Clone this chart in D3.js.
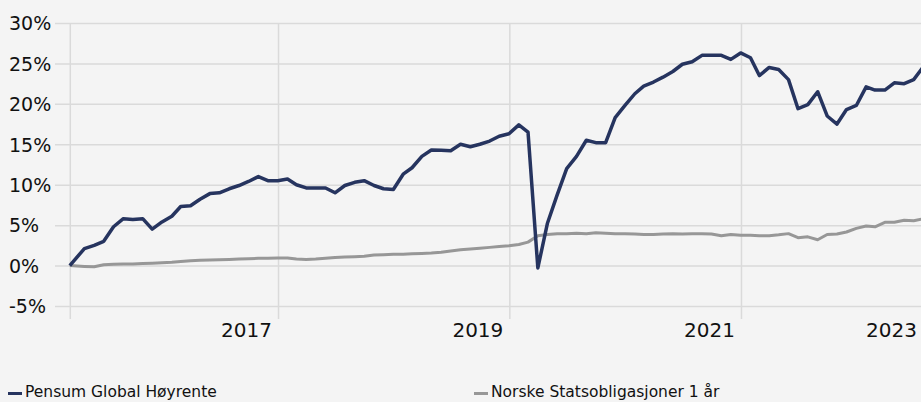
<!DOCTYPE html>
<html>
<head>
<meta charset="utf-8">
<script src="https://cdn.jsdelivr.net/npm/d3@7"></script>
<style>
  body { margin: 0; background: #f4f4f4; }
  svg { display: block; font-family: 'DejaVu Sans', sans-serif; }
</style>
</head>
<body>
<div id="chart"></div>
<script>
// monthly closing dates (first point = inception)
const dates = [
  '2016-03-15', '2016-04-30', '2016-05-31', '2016-06-30', '2016-07-31', '2016-08-31', '2016-09-30', '2016-10-31', '2016-11-30', '2016-12-31',
  '2017-01-31', '2017-02-28', '2017-03-31', '2017-04-30', '2017-05-31', '2017-06-30', '2017-07-31', '2017-08-31', '2017-09-30', '2017-10-31', '2017-11-30', '2017-12-31',
  '2018-01-31', '2018-02-28', '2018-03-31', '2018-04-30', '2018-05-31', '2018-06-30', '2018-07-31', '2018-08-31', '2018-09-30', '2018-10-31', '2018-11-30', '2018-12-31',
  '2019-01-31', '2019-02-28', '2019-03-31', '2019-04-30', '2019-05-31', '2019-06-30', '2019-07-31', '2019-08-31', '2019-09-30', '2019-10-31', '2019-11-30', '2019-12-31',
  '2020-01-31', '2020-02-29', '2020-03-31', '2020-04-30', '2020-05-31', '2020-06-30', '2020-07-31', '2020-08-31', '2020-09-30', '2020-10-31', '2020-11-30', '2020-12-31',
  '2021-01-31', '2021-02-28', '2021-03-31', '2021-04-30', '2021-05-31', '2021-06-30', '2021-07-31', '2021-08-31', '2021-09-30', '2021-10-31', '2021-11-30', '2021-12-31',
  '2022-01-31', '2022-02-28', '2022-03-31', '2022-04-30', '2022-05-31', '2022-06-30', '2022-07-31', '2022-08-31', '2022-09-30', '2022-10-31', '2022-11-30', '2022-12-31',
  '2023-01-31', '2023-02-28', '2023-03-31', '2023-04-30', '2023-05-31', '2023-06-30', '2023-07-31'
];

// cumulative return, %
const pensum = [
  0.0, 2.1, 2.5, 3.0, 4.8, 5.8, 5.7, 5.8, 4.5, 5.4,
  6.1, 7.3, 7.4, 8.2, 8.9, 9.0, 9.5, 9.9, 10.4, 11.0, 10.5, 10.5,
  10.7, 10.0, 9.6, 9.6, 9.6, 9.0, 9.9, 10.3, 10.5, 9.9, 9.5, 9.4,
  11.3, 12.1, 13.5, 14.3, 14.25, 14.2, 15.0, 14.7, 15.0, 15.4, 16.0, 16.3,
  17.4, 16.5, -0.3, 5.2, 8.75, 12.0, 13.5, 15.5, 15.2, 15.2, 18.3, 19.8,
  21.25, 22.2, 22.7, 23.3, 24.0, 24.9, 25.2, 26.0, 26.0, 26.0, 25.5, 26.3,
  25.7, 23.5, 24.5, 24.25, 23.0, 19.4, 19.9, 21.5, 18.5, 17.5, 19.3, 19.8,
  22.1, 21.7, 21.7, 22.6, 22.5, 23.0, 24.6
];

const statsobl = [
  0.0, -0.1, -0.15, 0.1, 0.15, 0.2, 0.2, 0.25, 0.3, 0.35,
  0.4, 0.5, 0.6, 0.65, 0.7, 0.72, 0.75, 0.8, 0.85, 0.9, 0.92, 0.95,
  0.95, 0.8, 0.75, 0.8, 0.9, 1.0, 1.05, 1.1, 1.15, 1.3, 1.35, 1.4,
  1.4, 1.45, 1.5, 1.55, 1.65, 1.8, 1.95, 2.05, 2.15, 2.25, 2.35, 2.45,
  2.6, 2.9, 3.7, 3.85, 3.95, 3.95, 4.0, 3.95, 4.05, 4.0, 3.95, 3.95,
  3.9, 3.85, 3.85, 3.9, 3.95, 3.9, 3.95, 3.95, 3.9, 3.7, 3.85, 3.75,
  3.75, 3.7, 3.7, 3.8, 3.95, 3.45, 3.55, 3.2, 3.85, 3.9, 4.15, 4.6,
  4.9, 4.8, 5.35, 5.35, 5.6, 5.55, 5.8
];

const seriesNames = ['Pensum Global Høyrente', 'Norske Statsobligasjoner 1 år'];
const seriesColors = ['#26345f', '#979797'];

const yTicks = [-5, 0, 5, 10, 15, 20, 25, 30];
const gridDates = ['2016-03-15', '2018-01-01', '2020-01-01', '2022-01-01'];
const xLabels = ['2017', '2019', '2021', '2023'];
const xLabelDates = ['2018-01-01', '2020-01-01', '2022-01-01', '2024-01-01'];

const parse = d3.timeParse('%Y-%m-%d');

const config = {
  containerWidth: 921,
  containerHeight: 402,
  margin: { top: 23, right: 0, bottom: 96, left: 55 }
};

const width = config.containerWidth - config.margin.left - config.margin.right;
const height = config.containerHeight - config.margin.top - config.margin.bottom;

const svg = d3.select('#chart').append('svg')
  .attr('width', config.containerWidth)
  .attr('height', config.containerHeight);

svg.append('rect')
  .attr('width', config.containerWidth)
  .attr('height', config.containerHeight)
  .attr('fill', '#f4f4f4');

const chart = svg.append('g')
  .attr('transform', `translate(${config.margin.left},${config.margin.top})`);

// scales
const xScale = d3.scaleTime()
  .domain([parse(dates[0]), parse(dates[dates.length - 1])])
  .range([14.8, 868.5]);

const yScale = d3.scaleLinear()
  .domain([-5, 30])
  .range([283, 0]);

// horizontal gridlines + y labels
const yAxis = d3.axisLeft(yScale)
  .tickValues(yTicks)
  .tickSize(-width)
  .tickFormat(d => d + '%');

chart.append('g')
  .attr('class', 'axis y-axis')
  .call(yAxis)
  .call(g => g.select('.domain').remove())
  .call(g => g.selectAll('line').attr('stroke', '#dadada').attr('stroke-width', 1.5))
  .call(g => g.selectAll('text')
    .attr('x', 9 - config.margin.left)
    .attr('dy', '0.36em')
    .attr('text-anchor', 'start')
    .attr('fill', '#111')
    .style('font-family', "'DejaVu Sans', sans-serif")
    .style('font-size', '19px'));

// vertical gridlines
const xAxis = d3.axisBottom(xScale)
  .tickValues(gridDates.map(parse))
  .tickSize(-296)
  .tickFormat('');

chart.append('g')
  .attr('class', 'axis x-axis')
  .attr('transform', 'translate(0,296)')
  .call(xAxis)
  .call(g => g.select('.domain').remove())
  .call(g => g.selectAll('line').attr('stroke', '#dadada').attr('stroke-width', 1.5));

// year labels, kept inside the plot on the right
chart.selectAll('.x-label')
  .data(xLabels)
  .join('text')
    .attr('class', 'x-label')
    .attr('x', (d, i) => Math.min(xScale(parse(xLabelDates[i])) - 6, width - 4))
    .attr('y', 314)
    .attr('text-anchor', 'end')
    .attr('fill', '#111')
    .style('font-size', '20px')
    .text(d => d);

// lines
const series = [pensum, statsobl];
const line = d3.line()
  .x((d, i) => xScale(parse(dates[i])))
  .y(d => yScale(d));

chart.selectAll('.series')
  .data([1, 0])
  .join('path')
    .attr('class', 'series')
    .attr('d', k => line(series[k]))
    .attr('fill', 'none')
    .attr('stroke', k => seriesColors[k])
    .attr('stroke-width', k => k === 0 ? 3.5 : 3)
    .attr('stroke-linejoin', 'round');

// legend
const legendX = [8, 474];
const legend = svg.selectAll('.legend')
  .data(seriesNames)
  .join('g')
    .attr('class', 'legend')
    .attr('transform', (d, i) => `translate(${legendX[i]},0)`);

legend.append('rect')
  .attr('y', 392)
  .attr('width', 14)
  .attr('height', 3)
  .attr('fill', (d, i) => seriesColors[i]);

legend.append('text')
  .attr('x', 17)
  .attr('y', 397)
  .attr('fill', '#111')
  .style('font-size', '15.5px')
  .text(d => d);
</script>
</body>
</html>
